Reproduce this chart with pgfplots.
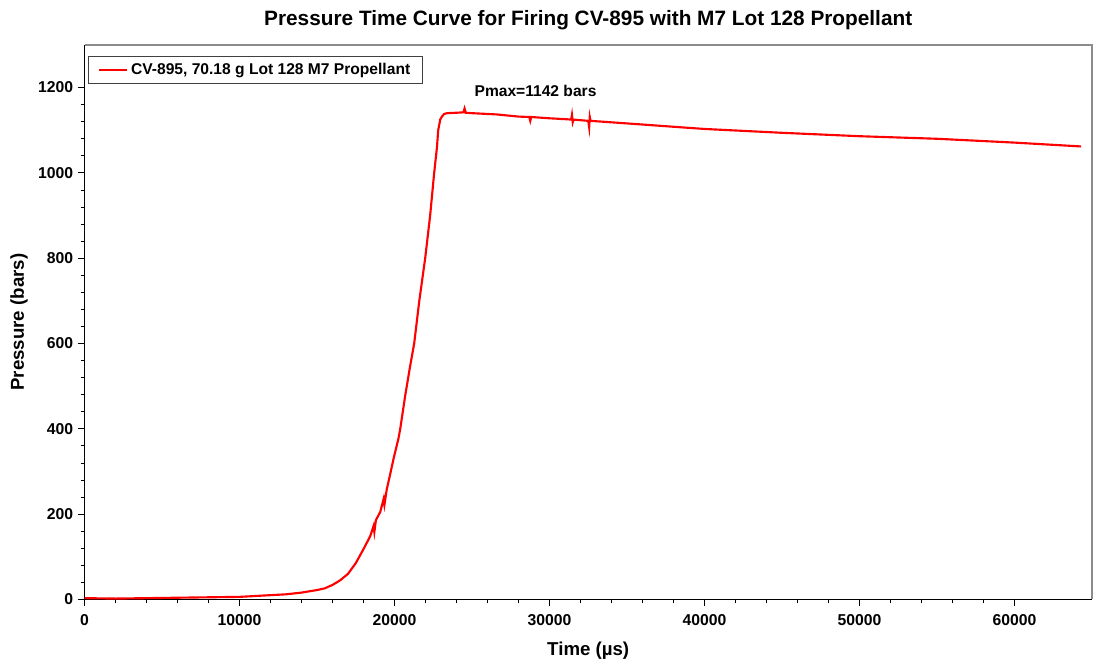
\documentclass[border=0pt]{standalone}
\usepackage{pgfplots}
\pgfplotsset{compat=1.18}
\usepackage{fontspec}
\setmainfont{Liberation Sans}
\begin{document}
\begin{tikzpicture}
\begin{axis}[
  scale only axis,
  width=755.6pt, height=415.9pt,
  xmin=0, xmax=65000, ymin=0, ymax=1300,
  axis x line*=bottom, axis y line*=left,
  axis line style={-, black, line width=0.8pt},
  tick align=outside,
  xtick={0,10000,...,60000},
  ytick={0,200,...,1200},
  minor x tick num=4, minor y tick num=4,
  major tick length=5pt, minor tick length=3pt,
  tick style={black, line width=0.6pt},
  scaled x ticks=false, scaled y ticks=false,
  /pgf/number format/1000 sep={},
  /pgf/number format/assume math mode=true,
  tick label style={font=\fontsize{11.8pt}{13pt}\selectfont\bfseries},
  xticklabel style={yshift=-3pt},
  xlabel={Time (µs)},
  ylabel={Pressure (bars)},
  label style={font=\fontsize{14pt}{16pt}\selectfont\bfseries},
  xlabel style={yshift=-5pt},
  ylabel style={yshift=1pt},
  title={Pressure Time Curve for Firing CV-895 with M7 Lot 128 Propellant},
  title style={font=\fontsize{15.6pt}{18pt}\selectfont\bfseries, yshift=2pt},
  legend style={at={(rel axis cs:0.0035,0.98)}, anchor=north west,
    font=\fontsize{11.7pt}{13pt}\selectfont\bfseries, draw=black!75, line width=0.7pt,
    inner xsep=7pt, inner ysep=3pt, row sep=0pt},
  legend image code/.code={\draw[#1] (0cm,0cm) -- (0.75cm,0cm);},
  legend cell align=left,
  clip=false,
]
\addplot[red, line width=1.6pt] coordinates {
(0,3) (2000,2) (4000,3) (6000,4) (8000,5) (10000,6) (11000,8) (12000,10)
(13000,12) (14000,16) (15000,22) (15500,26) (16000,34) (16500,45) (17000,60)
(17500,85) (18000,118) (18430,148) (18650,172) (18700,158) (18800,186)
(19080,205) (19300,236) (19350,222) (19500,258) (19700,290) (19940,330)
(20260,378) (20370,400) (20700,480) (21000,545) (21270,600) (21600,700)
(21980,800) (22300,900) (22560,1000) (22740,1060) (22820,1100) (22950,1125)
(23060,1132) (23200,1138) (23380,1140) (24000,1141) (24450,1142) (24520,1151)
(24600,1141) (25000,1140) (26610,1137) (28000,1132) (28700,1131) (28760,1122)
(28820,1131) (30000,1128) (31000,1126) (31400,1125) (31450,1136) (31500,1119)
(31550,1125) (32500,1122) (32560,1107) (32600,1131) (32650,1122) (35000,1116)
(38440,1107) (40000,1103) (45000,1094) (50000,1086) (55000,1080)
(60000,1071) (64300,1062)
};
\addlegendentry{CV-895, 70.18 g Lot 128 M7 Propellant}
\draw[black!45, line width=1pt] (rel axis cs:0,1) -- (rel axis cs:1,1) -- (rel axis cs:1,0);
\node[font=\fontsize{11.7pt}{13pt}\selectfont\bfseries] at (axis cs:29100,1192) {Pmax=1142 bars};
\end{axis}
\pgfresetboundingbox
\path[use as bounding box] (-63.4pt,-48.4pt) rectangle (756.4pt,449.6pt);
\end{tikzpicture}
\end{document}
